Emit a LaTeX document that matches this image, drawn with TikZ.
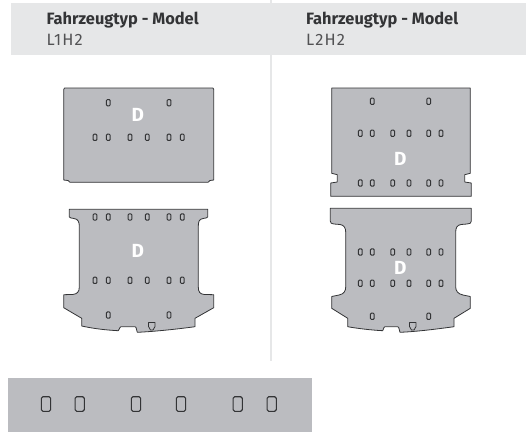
\documentclass[tikz,border=0pt]{standalone}
\usepackage{fontspec}
\setmainfont{Fira Sans}
\definecolor{panelgrey}{HTML}{BBBCC0}
\definecolor{headgrey}{HTML}{E6E7E8}
\definecolor{inkgrey}{HTML}{333436}
\begin{document}
\begin{tikzpicture}[
    x=1pt, y=-1pt,
    panel/.style={draw=inkgrey, line width=0.8pt, fill=panelgrey, line join=round},
    hole/.style={rectangle, rounded corners=1pt, draw=inkgrey, line width=1pt, fill=panelgrey,
        minimum width=3.8pt, minimum height=6.2pt, inner sep=0pt},
    bighole/.style={rectangle, rounded corners=1.6pt, draw=inkgrey, line width=1.1pt, fill=panelgrey,
        minimum width=9.2pt, minimum height=14.6pt, inner sep=0pt},
    letter/.style={text=white, font=\fontsize{19}{19}\selectfont\bfseries, inner sep=0pt},
    headbold/.style={anchor=base west, inner sep=0pt, text=inkgrey, font=\fontsize{16.4}{18}\selectfont\bfseries},
    headthin/.style={anchor=base west, inner sep=0pt, text=inkgrey!85, font=\fontsize{16.4}{18}\selectfont\addfontfeatures{LetterSpace=7}}
]
    \useasboundingbox (0,0) rectangle (526,432);
    % header and divider
    \fill[headgrey] (11,3) rectangle (526,55);
    \fill[headgrey] (269.5,0) rectangle (272,361);
    \node[headbold] (titleA) at (46.5,24.5) {Fahrzeugtyp - Model};
    \node[headthin] (typeA) at (46.5,45) {L1H2};
    \node[headbold] (titleB) at (306,24.5) {Fahrzeugtyp - Model};
    \node[headthin] (typeB) at (306,45) {L2H2};
    % L1H2 upper
    \draw[panel] (63.7,89.5) -- (64.5,88) -- (213,88) -- (213.7,89.5) -- (213.7,180) -- (210,180.5) -- (208,182.3)
        -- (70,182.3) -- (68,180.5) -- (63.7,180) -- cycle;
    \foreach \x in {108.3,169} \node[hole] (aa\x) at (\x,102.7) {};
    \foreach \x in {95,108.3,130,147.3,169,182.3} \node[hole] (ab\x) at (\x,137.3) {};
    \node[letter] (dA) at (137.7,115.3) {D};
    % L1H2 lower
    \draw[panel] (69.3,209.3) -- (207.7,209.3) -- (207.7,217) .. controls (207.7,218) and (205,218) .. (203,218.5)
        .. controls (199,219) and (198.3,222) .. (198.3,226) -- (198.3,287) .. controls (198.3,292) and (200,294) .. (204,294.4)
        -- (213.7,294.7) -- (213.7,307.7) -- (195,318.3) -- (195,326.7) .. controls (178,329) and (155,331.5) .. (137.3,332.3)
        -- (136,327.5) -- (135,326.7) -- (121,326.7) -- (120,327.5) -- (118.3,330.7) .. controls (105,330) and (93,328.5) .. (81.7,326)
        -- (81.7,318.3) -- (63.7,307.7) -- (63.7,294.7) -- (73,294.4) .. controls (77,294) and (79.3,292) .. (79.3,287)
        -- (79.3,226) .. controls (79.3,222) and (78,219) .. (74,218.5) .. controls (72,218) and (69.3,218) .. (69.3,217) -- cycle;
    \foreach \x in {95,108.3,130,147.3,169,182.3} {
        \node[hole] (ac\x) at (\x,217) {};
        \node[hole] (ad\x) at (\x,280.3) {};
    }
    \foreach \x in {108.3,169} \node[hole] (ae\x) at (\x,315) {};
    \draw[panel] (148.5,322.5) -- (155,322.5) -- (155,326.5) -- (153,330) -- (150.5,330) -- (148.5,326.5) -- cycle;
    \node[letter] (dB) at (137.7,250.7) {D};
    % L2H2 upper
    \draw[panel] (331.7,88) -- (470.3,88) -- (470.3,173.3) -- (464.7,174.7) -- (464.7,182) -- (471.3,183) -- (471.3,196.3)
        -- (330.7,196.3) -- (330.7,183) -- (337.3,182) -- (337.3,174.7) -- (331.7,173.3) -- cycle;
    \foreach \x in {372.3,428.7} \node[hole] (ba\x) at (\x,101.3) {};
    \foreach \x in {360.3,372.3,392.7,409,428.7,441} {
        \node[hole] (bb\x) at (\x,133.3) {};
        \node[hole] (bc\x) at (\x,183) {};
    }
    \node[letter] (dC) at (400.3,158.7) {D};
    % L2H2 lower
    \draw[panel] (330.3,208.3) -- (471.3,208.3) -- (471.3,221) .. controls (471.3,223) and (470,224) .. (467,224)
        -- (461,224.5) .. controls (457,225) and (455.7,228) .. (455.7,232) -- (455.7,287) .. controls (455.7,291) and (458,294) .. (463,295)
        -- (470.3,296.5) -- (470.3,308.3) -- (454,318.3) -- (454,326.7) .. controls (437,329) and (418,331.5) .. (400,332.3)
        -- (398.7,327.5) -- (397.7,326.7) -- (385,326.7) -- (384,327.5) -- (382.7,330.7) .. controls (370,330) and (358,328.5) .. (347.7,326.7)
        -- (347.7,318.3) -- (331.7,308.3) -- (331.7,296.5) -- (339,295) .. controls (344,294) and (345.7,291) .. (345.7,287)
        -- (345.7,232) .. controls (345.7,228) and (344,225) .. (340,224.5) -- (334,224) .. controls (331.5,224) and (330.3,223) .. (330.3,221) -- cycle;
    \foreach \x in {360.3,372.3,392.7,409,428.7,441} {
        \node[hole] (bd\x) at (\x,252) {};
        \node[hole] (be\x) at (\x,283.3) {};
    }
    \foreach \x in {372.3,428.7} \node[hole] (bf\x) at (\x,316.3) {};
    \draw[panel] (409.5,322.5) -- (416,322.5) -- (416,326.5) -- (414,330) -- (411.5,330) -- (409.5,326.5) -- cycle;
    \node[letter] (dD) at (400.3,268.3) {D};
    % detail strip
    \fill[panelgrey] (8,378) rectangle (312,432);
    \foreach \x in {46,79.7,136,181,237.7,271.7} \node[bighole] (c\x) at (\x,404) {};
\end{tikzpicture}
\end{document}
